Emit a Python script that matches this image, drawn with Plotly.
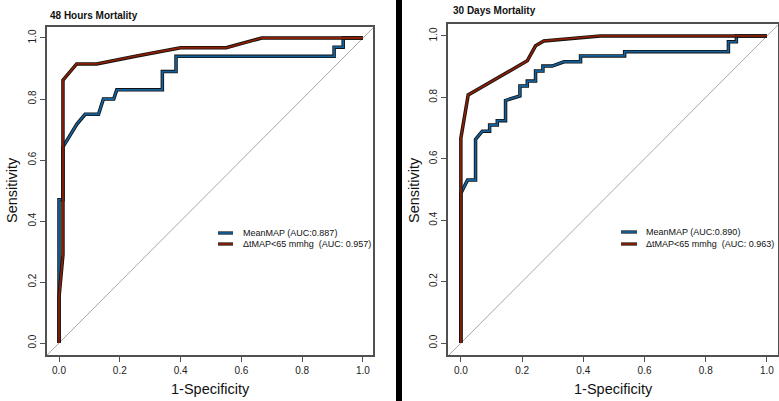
import plotly.graph_objects as go

W, H = 779, 401

# ---------------- data ----------------
# 48 Hours Mortality
h48_mean_fpr = [0.0, 0.0, 0.0, 0.013, 0.013, 0.059, 0.086, 0.13, 0.146, 0.18, 0.19, 0.34, 0.34, 0.385, 0.385, 0.905, 0.905, 0.935, 0.935, 1.0]
h48_mean_tpr = [0.0, 0.15, 0.47, 0.47, 0.643, 0.718, 0.75, 0.75, 0.80, 0.80, 0.83, 0.83, 0.89, 0.89, 0.94, 0.94, 0.97, 0.97, 1.0, 1.0]
h48_dt_fpr = [0.0, 0.0, 0.013, 0.013, 0.058, 0.124, 0.256, 0.40, 0.55, 0.667, 1.0]
h48_dt_tpr = [0.0, 0.15, 0.29, 0.862, 0.915, 0.915, 0.941, 0.968, 0.968, 1.0, 1.0]

# 30 Days Mortality
d30_mean_fpr = [0.0, 0.0, 0.022, 0.048, 0.048, 0.07, 0.094, 0.094, 0.119, 0.119, 0.146, 0.146, 0.193, 0.193, 0.217, 0.217,
                0.244, 0.244, 0.268, 0.268, 0.298, 0.337, 0.391, 0.391, 0.535, 0.535, 0.874, 0.874, 0.90, 0.90, 1.0]
d30_mean_tpr = [0.0, 0.488, 0.531, 0.531, 0.663, 0.69, 0.69, 0.71, 0.71, 0.724, 0.724, 0.79, 0.805, 0.837, 0.837, 0.853,
                0.853, 0.886, 0.886, 0.902, 0.902, 0.916, 0.916, 0.935, 0.935, 0.949, 0.949, 0.981, 0.981, 1.0, 1.0]
d30_dt_fpr = [0.0, 0.0, 0.024, 0.217, 0.244, 0.271, 0.456, 1.0]
d30_dt_tpr = [0.0, 0.667, 0.808, 0.919, 0.968, 0.984, 1.0, 1.0]

titles = ["48 Hours Mortality", "30 Days Mortality"]
legend_48 = ["MeanMAP (AUC:0.887)", "ΔtMAP<65 mmhg  (AUC: 0.957)"]
legend_30 = ["MeanMAP (AUC:0.890)", "ΔtMAP<65 mmhg  (AUC: 0.963)"]
tick_vals = [0.0, 0.2, 0.4, 0.6, 0.8, 1.0]
tick_text = ["0.0", "0.2", "0.4", "0.6", "0.8", "1.0"]
diag = [-0.2, 1.2]

BLUE = "#14609a"
RED = "#8a1f05"
OUT = "#111111"
FONT = "Liberation Sans, Arial, sans-serif"


def px(x):
    return x / W


def py(y):
    return 1 - y / H


fig = go.Figure()


def add_curve(x, y, color, xa, ya):
    fig.add_trace(go.Scatter(x=x, y=y, mode="lines", xaxis=xa, yaxis=ya,
                             line=dict(color=OUT, width=3.5), hoverinfo="skip", showlegend=False))
    fig.add_trace(go.Scatter(x=x, y=y, mode="lines", xaxis=xa, yaxis=ya,
                             line=dict(color=color, width=1.8), showlegend=False))


for xa, ya in [("x", "y"), ("x2", "y2")]:
    fig.add_trace(go.Scatter(x=diag, y=diag, mode="lines", xaxis=xa, yaxis=ya,
                             line=dict(color="#a8a8a8", width=1), hoverinfo="skip", showlegend=False))

add_curve(h48_mean_fpr, h48_mean_tpr, BLUE, "x", "y")
add_curve(h48_dt_fpr, h48_dt_tpr, RED, "x", "y")
add_curve(d30_mean_fpr, d30_mean_tpr, BLUE, "x2", "y2")
add_curve(d30_dt_fpr, d30_dt_tpr, RED, "x2", "y2")

axis_common = dict(showgrid=False, zeroline=False, showline=True, mirror=True,
                   linecolor="#505050", linewidth=1.5, ticks="outside", ticklen=5,
                   tickwidth=1.2, tickcolor="#505050", tickvals=tick_vals, ticktext=tick_text,
                   tickfont=dict(family=FONT, size=10, color="#222222"), fixedrange=True)

fig.update_layout(
    width=W, height=H, margin=dict(l=0, r=0, t=0, b=0),
    paper_bgcolor="white", plot_bgcolor="white", showlegend=False,
    xaxis=dict(domain=[px(47), px(373)], range=[-0.0395, 1.033], anchor="y", **axis_common),
    yaxis=dict(domain=[py(355), py(27)], range=[-0.039, 1.036], anchor="x", tickangle=-90, **axis_common),
    xaxis2=dict(domain=[px(448), px(778)], range=[-0.042, 1.036], anchor="y2", **axis_common),
    yaxis2=dict(domain=[py(355), py(24)], range=[-0.039, 1.039], anchor="x2", tickangle=-90, **axis_common),
)

ann = []
shapes = []
# panel titles
ann.append(dict(text="<b>%s</b>" % titles[0], x=px(48), y=py(15), xref="paper", yref="paper",
                xanchor="left", yanchor="middle", showarrow=False,
                font=dict(family=FONT, size=10, color="#111111")))
ann.append(dict(text="<b>%s</b>" % titles[1], x=px(451), y=py(11), xref="paper", yref="paper",
                xanchor="left", yanchor="middle", showarrow=False,
                font=dict(family=FONT, size=10, color="#111111")))
# axis titles
for cx, cy in [(210, 389), (613, 389)]:
    ann.append(dict(text="1-Specificity", x=px(cx), y=py(cy), xref="paper", yref="paper",
                    xanchor="center", yanchor="middle", showarrow=False,
                    font=dict(family=FONT, size=14.5, color="#111111")))
for cx, cy in [(12, 190), (414, 190)]:
    ann.append(dict(text="Sensitivity", x=px(cx), y=py(cy), xref="paper", yref="paper",
                    xanchor="center", yanchor="middle", showarrow=False, textangle=-90,
                    font=dict(family=FONT, size=14.5, color="#111111")))
# legends
for labels, (kx0, kx1, tx), ys in [(legend_48, (218, 233, 241), (233, 244)),
                                     (legend_30, (621, 637, 644), (232, 244))]:
    for lab, col, yy in zip(labels, [BLUE, RED], ys):
        shapes.append(dict(type="line", xref="paper", yref="paper", x0=px(kx0), x1=px(kx1),
                           y0=py(yy), y1=py(yy), line=dict(color=OUT, width=3.2)))
        shapes.append(dict(type="line", xref="paper", yref="paper", x0=px(kx0), x1=px(kx1),
                           y0=py(yy), y1=py(yy), line=dict(color=col, width=1.8)))
        ann.append(dict(text=lab, x=px(tx), y=py(yy), xref="paper", yref="paper",
                        xanchor="left", yanchor="middle", showarrow=False,
                        font=dict(family=FONT, size=9, color="#111111")))
# separator bar between panels
shapes.append(dict(type="rect", xref="paper", yref="paper", x0=px(396), x1=px(402), y0=0, y1=1,
                   fillcolor="black", line=dict(width=0)))

fig.update_layout(annotations=ann, shapes=shapes)
fig.write_html("out.html")
